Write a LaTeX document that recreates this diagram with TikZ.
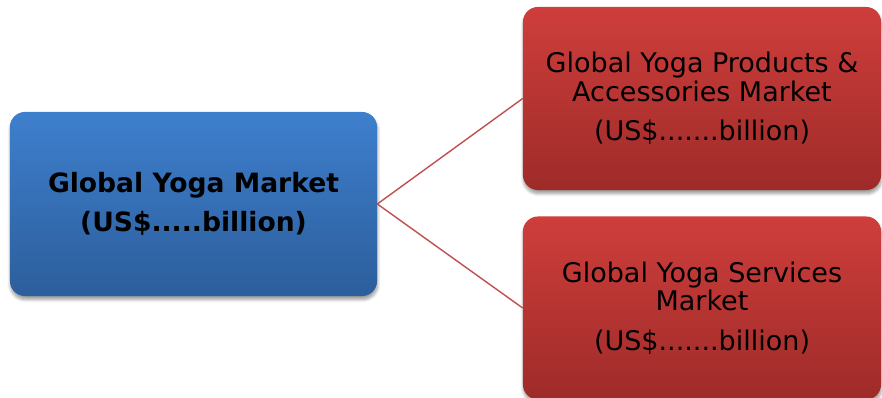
\documentclass[tikz,border=0pt]{standalone}
\usepackage{fontspec}
\setmainfont{DejaVu Sans}
\usetikzlibrary{shadows.blur}
\definecolor{bluetop}{HTML}{3E7FCD}
\definecolor{bluebot}{HTML}{2C5E9C}
\definecolor{redtop}{HTML}{CE3E3B}
\definecolor{redbot}{HTML}{9E2B29}
\definecolor{linkred}{HTML}{C0504D}
\tikzset{
  mainbox/.style={rounded corners=0.375cm, top color=bluetop, bottom color=bluebot,
    minimum width=9.175cm, minimum height=4.6cm, align=center,
    font=\fontsize{18.9}{28}\selectfont\bfseries,
    blur shadow={shadow xshift=0.4pt, shadow yshift=-2.5pt, shadow blur steps=6}},
  subbox/.style={rounded corners=0.375cm, top color=redtop, bottom color=redbot,
    minimum width=8.95cm, minimum height=4.575cm, align=center,
    font=\fontsize{19.2}{20.5}\selectfont,
    blur shadow={shadow xshift=0.4pt, shadow yshift=-2.5pt, shadow blur steps=6}},
  link/.style={draw=linkred, line width=1pt}
}
\begin{document}
\begin{tikzpicture}[x=0.025cm, y=-0.025cm]
  \useasboundingbox (0,0) rectangle (882,398);
  \clip (0,0) rectangle (882,398);
  % market split
  \node[mainbox] (market) at (193.5,204) {Global Yoga Market\\(US\$.....billion)};
  \node[subbox] (products) at (702,98.5) {Global Yoga Products \&\\Accessories Market\\[7.5pt](US\$.......billion)};
  \node[subbox] (services) at (702,308) {Global Yoga Services\\Market\\[7.5pt](US\$.......billion)};
  \draw[link] (market.east) -- (products.west);
  \draw[link] (market.east) -- (services.west);
\end{tikzpicture}
\end{document}
